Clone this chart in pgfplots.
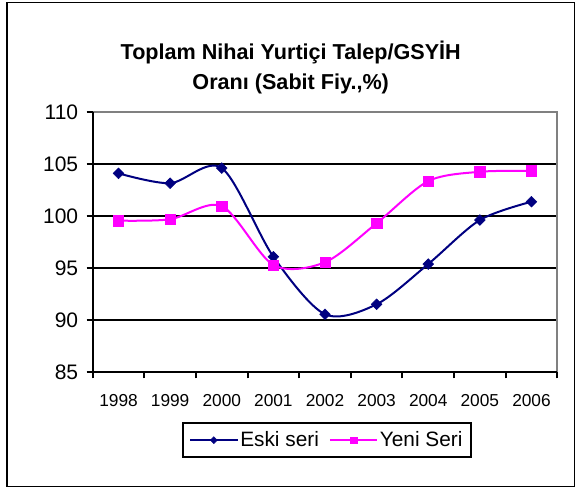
\documentclass[border=0pt]{standalone}
\usepackage{fontspec}
\setmainfont{Liberation Sans}
\usepackage{pgfplots}
\pgfplotsset{compat=1.18}
\definecolor{navyS}{RGB}{0,0,128}
\definecolor{magS}{RGB}{255,0,255}
\definecolor{borderG}{RGB}{128,128,128}
\begin{document}
\begin{tikzpicture}[x=1pt,y=1pt]
\useasboundingbox (0,0) rectangle (578,489);
\draw[line width=1.8pt] (7,2.5) rectangle (574.5,486.5);
\node[anchor=base, inner sep=0pt, font=\fontsize{21.6}{24}\selectfont\bfseries] at (290.7,429) {Toplam Nihai Yurtiçi Talep/GSYİH};
\node[anchor=base, inner sep=0pt, font=\fontsize{21.6}{24}\selectfont\bfseries] at (290.7,399.7) {Oranı (Sabit Fiy.,\%)};
\begin{axis}[
  at={(92.7pt,116.5pt)}, anchor=south west,
  scale only axis, width=464.6pt, height=260pt,
  xmin=-0.5, xmax=8.5, ymin=85, ymax=110,
  xtick={-0.5,0.5,1.5,2.5,3.5,4.5,5.5,6.5,7.5,8.5},
  x tick label as interval,
  xticklabels={1998,1999,2000,2001,2002,2003,2004,2005,2006},
  ytick={85,90,95,100,105,110},
  tick pos=left, tick align=outside, major tick length=6pt,
  tick style={black, line width=2pt},
  axis line style={draw=none},
  ymajorgrids=true,
  major grid style={black, line width=2pt},
  /pgf/number format/assume math mode=true,
  yticklabel style={font=\fontsize{21}{22}\selectfont, xshift=-5pt},
  xticklabel style={font=\fontsize{17.3}{18}\selectfont, yshift=-12pt},
  clip=false,
  legend columns=2,
  legend style={at={(0.504,-0.19)}, anchor=north, draw=black, line width=2pt,
    font=\fontsize{20.8}{22}\selectfont, inner xsep=6.5pt, inner ysep=7pt,
    /tikz/every even column/.append style={column sep=8pt}},
  legend image code/.code={\draw[line width=2pt, mark repeat=2,mark phase=2, every mark/.append style={scale=0.65}] plot coordinates {(0pt,0pt) (23.5pt,0pt) (47pt,0pt)};},
]
\addplot[navyS, line width=2pt, smooth, mark=square*, mark size=3.8pt, mark options={solid, fill=navyS, line width=0.5pt, rotate=45}] coordinates {
(0,104.15) (1,103.2) (2,104.66) (3,96.13) (4,90.6) (5,91.56) (6,95.43) (7,99.66) (8,101.42)};
\addlegendentry{Eski seri}
\addplot[magS, line width=2pt, smooth, mark=square*, mark size=5.2pt, mark options={solid, fill=magS, line width=0.5pt}] coordinates {
(0,99.6) (1,99.73) (2,101.0) (3,95.34) (4,95.6) (5,99.35) (6,103.4) (7,104.3) (8,104.38)};
\addlegendentry{Yeni Seri}
\draw[borderG, line width=2pt] (rel axis cs:0,1) -- (rel axis cs:1,1) -- (rel axis cs:1,0);
\draw[black, line width=2pt] (rel axis cs:0,1) -- (rel axis cs:0,0) -- (rel axis cs:1,0);
\end{axis}
\end{tikzpicture}
\end{document}
